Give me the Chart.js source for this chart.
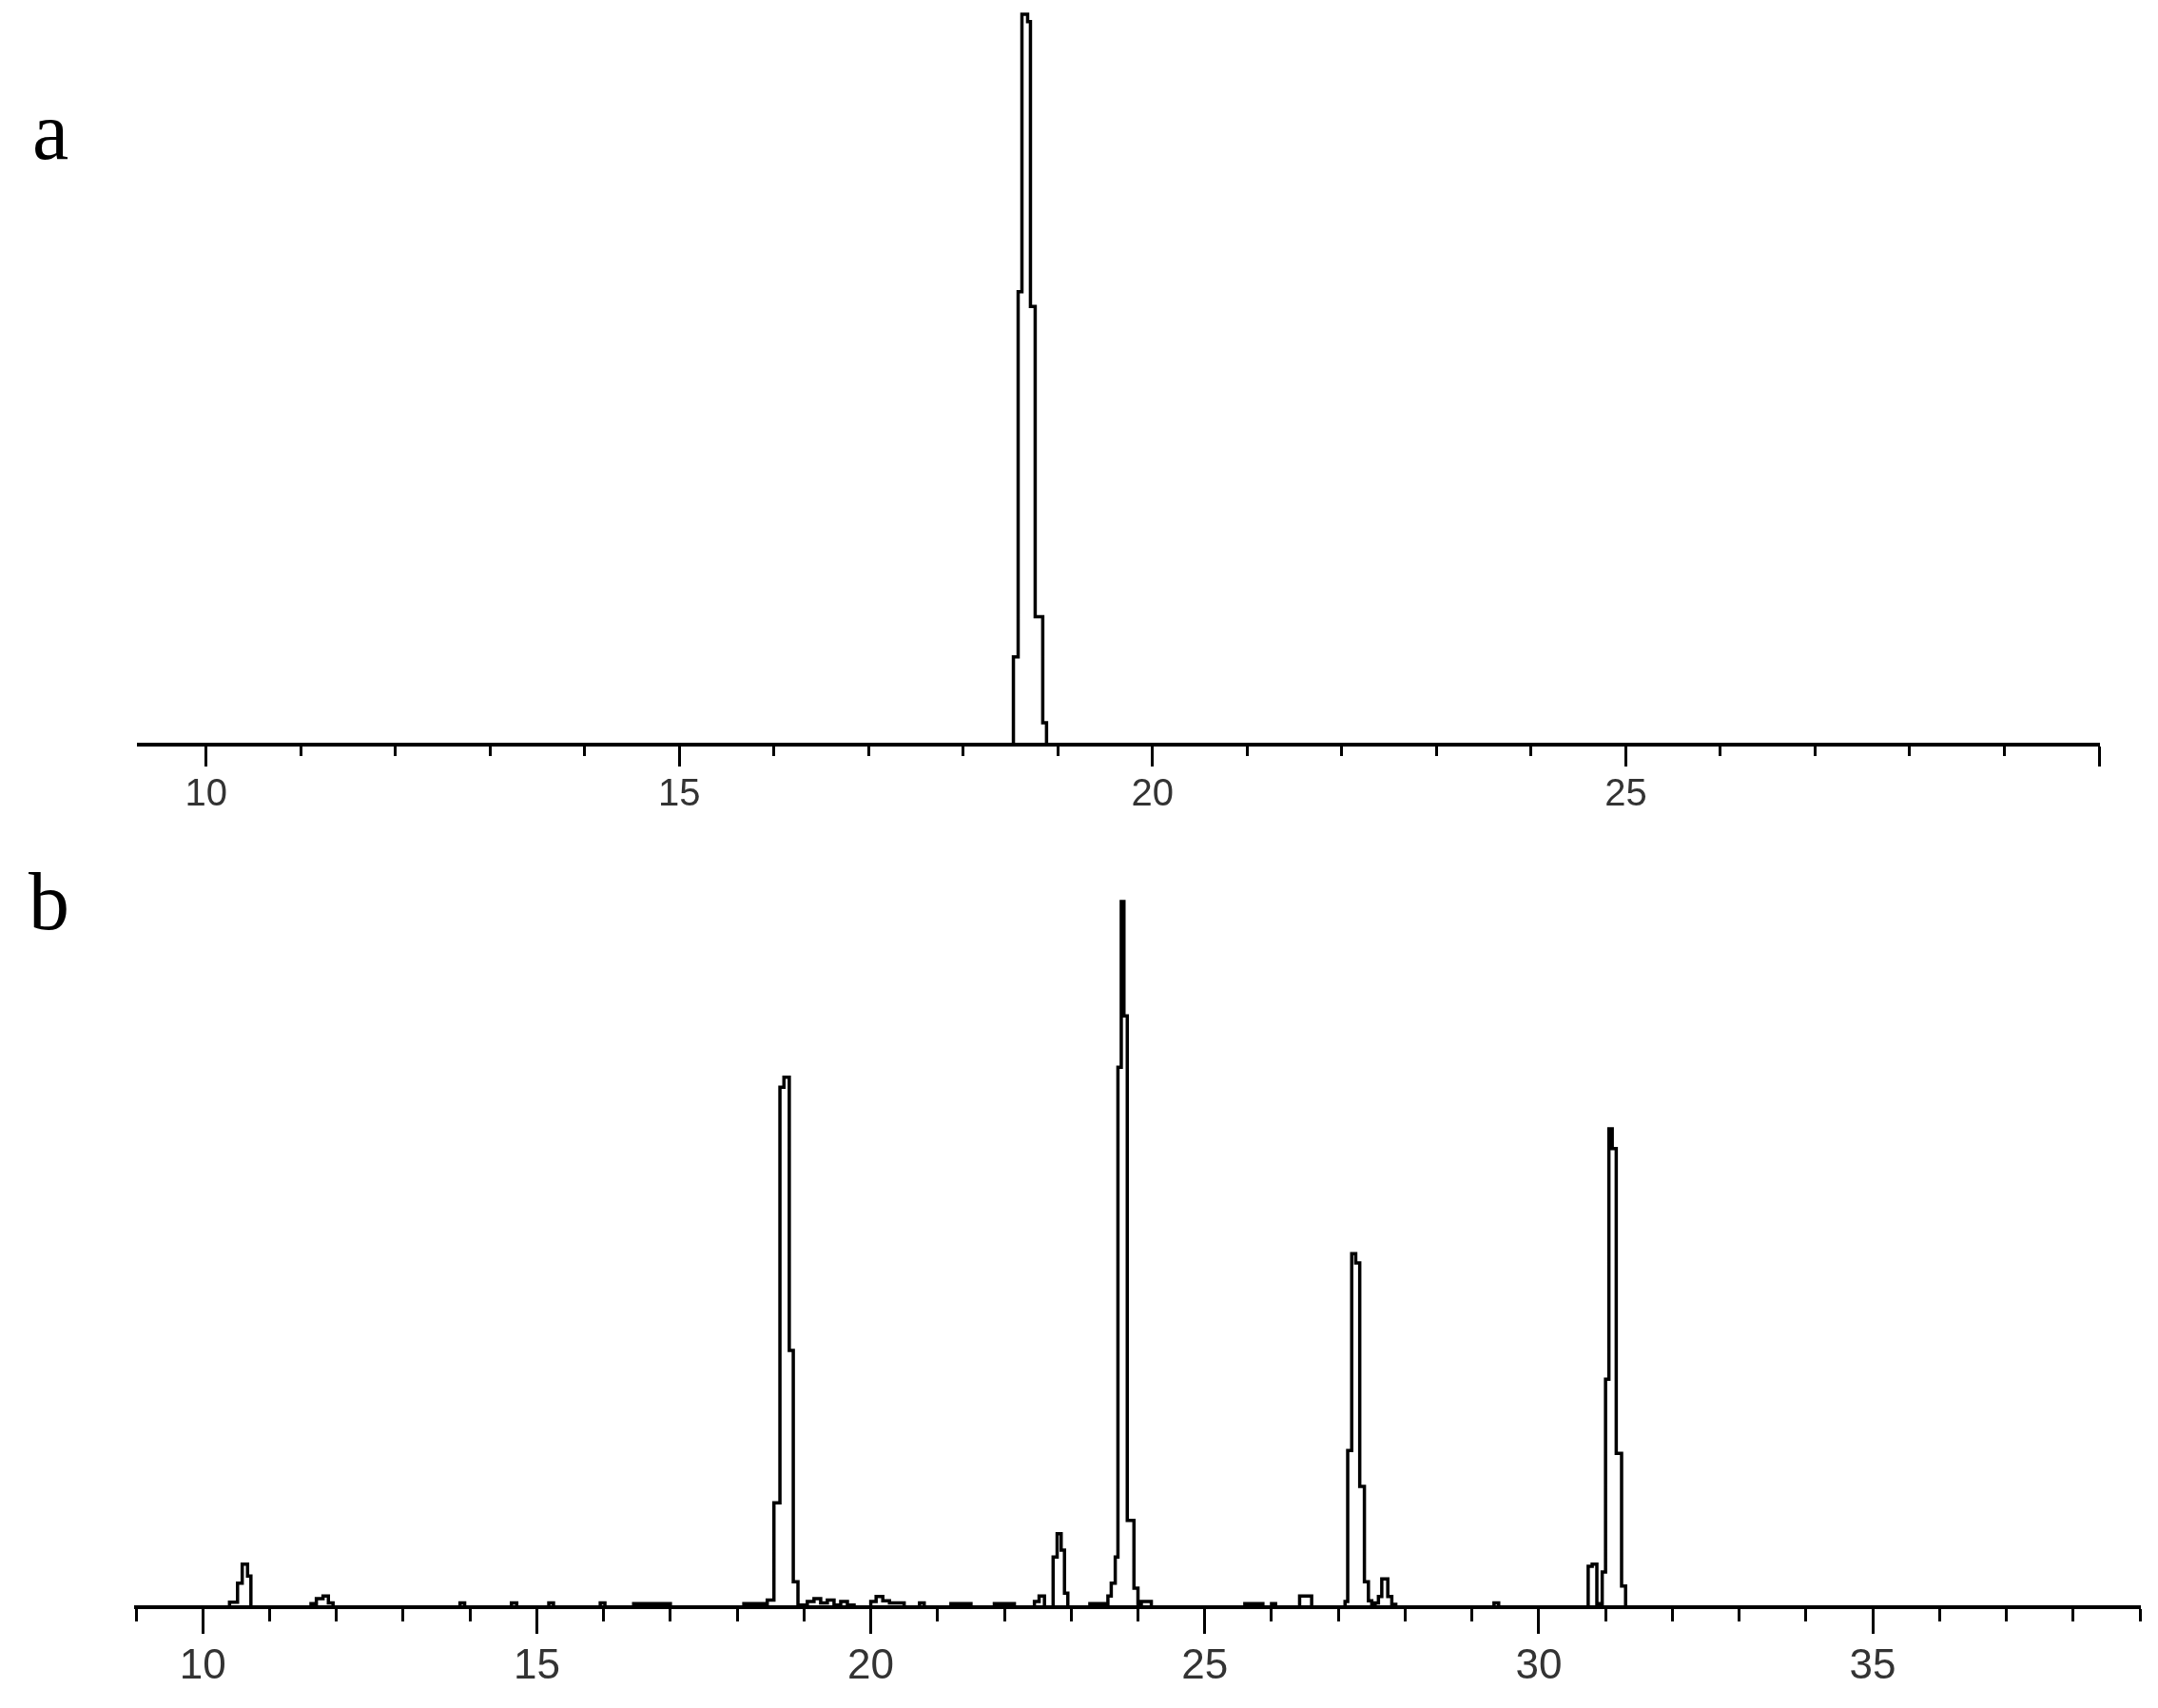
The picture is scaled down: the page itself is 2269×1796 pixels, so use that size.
<!DOCTYPE html>
<html>
<head>
<meta charset="utf-8">
<script src="https://cdn.jsdelivr.net/npm/chart.js@4.4.1/dist/chart.umd.min.js"></script>
<style>
  body { margin: 0; background: #fff; width: 2269px; height: 1796px; position: relative; overflow: hidden; }
  .panel { position: absolute; left: 0; width: 2269px; }
  #wrapA { top: 0; height: 870px; }
  #wrapB { top: 870px; height: 926px; }
  .tag { position: absolute; font-family: "Liberation Serif", "Times New Roman", serif; font-size: 86px; line-height: 1; color: #000; }
</style>
</head>
<body>
<div class="panel" id="wrapA"><canvas id="chartA"></canvas></div>
<div class="panel" id="wrapB"><canvas id="chartB"></canvas></div>
<div class="tag" style="left:34px; top:95px;">a</div>
<div class="tag" style="left:30px; top:905px;">b</div>
<script>
// chromatogram a (standard) - retention time in min, signal in % of the tallest peak
const aTime   = [9.29, 18.53, 18.58, 18.62, 18.68, 18.71, 18.76, 18.84, 18.88, 30];
const aSignal = [0,    12,    62,    100,   99,    60,    17.5,  3,     0,     0];
const aTicks   = [10, 11, 12, 13, 14, 15, 16, 17, 18, 19, 20, 21, 22, 23, 24, 25, 26, 27, 28, 29, 30];
const aLabeled = [10, 15, 20, 25];

// chromatogram b (sample)
const bTime = [
  9.00,
  10.40, 10.52, 10.59, 10.67, 10.72,
  11.62, 11.70, 11.80, 11.88, 11.95,
  13.85, 13.92, 14.62, 14.70, 15.18, 15.25, 15.95, 16.02,
  16.45, 17.00,
  18.10, 18.45, 18.55, 18.64, 18.70, 18.78, 18.84, 18.91,
  19.05, 19.15, 19.25, 19.35, 19.45, 19.55, 19.65, 19.75,
  20.00, 20.08, 20.18, 20.28, 20.50,
  20.73, 20.80, 21.20, 21.50, 21.85, 22.15,
  22.45, 22.52, 22.60,
  22.73, 22.79, 22.85, 22.90, 22.95,
  23.28, 23.50,
  23.55, 23.60, 23.66, 23.70, 23.75, 23.79, 23.84, 23.94, 24.00,
  24.05, 24.20,
  25.60, 25.87, 26.00, 26.06,
  26.42, 26.60,
  27.10, 27.14, 27.20, 27.26, 27.32, 27.39, 27.45, 27.50,
  27.55, 27.60, 27.65, 27.74, 27.80, 27.86,
  29.33, 29.40,
  30.74, 30.80, 30.87, 30.95, 31.00, 31.05, 31.10, 31.16, 31.24, 31.30,
  39.00
];
const bSignal = [
  0,
  0.7, 3.4, 6.1, 4.4, 0,
  0.5, 1.2, 1.6, 0.6, 0,
  0.6, 0, 0.6, 0, 0.6, 0, 0.6, 0,
  0.5, 0,
  0.5, 1.0, 14.8, 73.7, 75.1, 36.4, 3.6, 0.3,
  0.8, 1.2, 0.6, 1.0, 0.3, 0.8, 0.3, 0,
  0.8, 1.5, 0.9, 0.6, 0,
  0.6, 0, 0.5, 0, 0.5, 0,
  0.8, 1.6, 0,
  7.1, 10.4, 8.1, 2.0, 0,
  0.5, 0,
  1.6, 3.4, 7.1, 76.5, 100, 83.8, 12.3, 2.7, 0,
  0.8, 0,
  0.5, 0, 0.5, 0,
  1.6, 0,
  0.8, 22.2, 50.1, 48.8, 17.1, 3.6, 0.9, 0,
  0.6, 1.5, 4.0, 1.5, 0.4, 0,
  0.6, 0,
  5.8, 6.1, 0.5, 5.0, 32.3, 67.8, 65.0, 21.8, 3.0, 0,
  0
];
const bTicks = [];
for (let t = 9; t <= 39; t++) bTicks.push(t);
const bLabeled = [10, 15, 20, 25, 30, 35];

// asse dei tempi: tacche lunghe ogni 5 min, corte ogni minuto
function timeAxis(min, max, tickValues, labeled, majorLen, minorLen, fontSize, pad) {
    return {
        type: 'linear',
        min: min,
        max: max,
        bounds: 'data',
        afterBuildTicks: axis => { axis.ticks = tickValues.map(v => ({ value: v })); },
        afterFit: axis => { axis.height = 80; },
        border: { display: true, color: '#000', width: 4 },
        grid: {
            display: true,
            drawOnChartArea: false,
            drawTicks: true,
            tickLength: majorLen,
            tickWidth: 3,
            tickColor: '#000',
            tickBorderDash: ctx => (ctx.tick && ctx.tick.value % 5 === 0) ? [] : [minorLen, 300]
        },
        ticks: {
            autoSkip: false,
            maxRotation: 0,
            padding: pad,
            color: '#333',
            font: { family: '"Liberation Sans", Arial, sans-serif', size: fontSize },
            callback: v => labeled.includes(v) ? String(v) : ''
        }
    };
}

function makeChart(id, times, signal, xAxis, padding) {
    const points = times.map((t, i) => ({ x: t, y: signal[i] }));
    return new Chart(document.getElementById(id), {
        type: 'line',
        data: {
            datasets: [{
                data: points,
                borderColor: '#000',
                borderWidth: 3.5,
                stepped: true,
                pointRadius: 0,
                fill: false,
                clip: false
            }]
        },
        options: {
            animation: false,
            responsive: true,
            maintainAspectRatio: false,
            events: [],
            layout: { padding: padding },
            plugins: { legend: { display: false }, tooltip: { enabled: false } },
            scales: {
                x: xAxis,
                y: { display: false, min: 0, max: 100 }
            }
        }
    });
}

makeChart('chartA', aTime, aSignal,
    timeAxis(9.29, 30, aTicks, aLabeled, 23, 10, 40, 6),
    { left: 146, right: 62, top: 15, bottom: 7 });

makeChart('chartB', bTime, bSignal,
    timeAxis(9, 39, bTicks, bLabeled, 28, 13, 44, 8),
    { left: 143, right: 19, top: 78, bottom: 26 });
</script>
</body>
</html>
